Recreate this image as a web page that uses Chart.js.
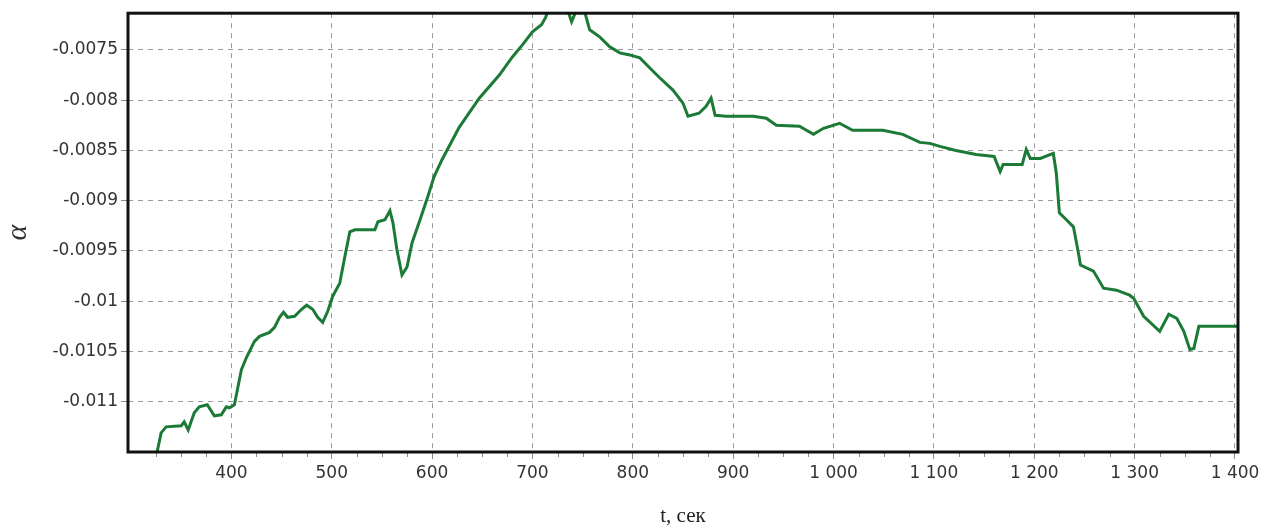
<!DOCTYPE html>
<html>
<head>
<meta charset="utf-8">
<script src="https://cdn.jsdelivr.net/npm/chart.js@4/dist/chart.umd.min.js"></script>
<style>
  html, body { margin: 0; padding: 0; background: #fff; }
  #wrap { width: 1267px; height: 529px; }
</style>
</head>
<body>
<div id="wrap"><canvas id="myChart"></canvas></div>
<script>
// time, s
var times = [324, 326, 330, 335, 350, 353, 357, 363, 368, 376, 383, 390, 395, 398, 403, 406, 410, 415, 423, 428,
  438, 443, 448, 452, 456, 463, 470, 475, 481, 486, 491, 496, 501, 508, 513, 518, 523, 543, 546, 553,
  558, 561, 565, 570, 575, 580, 589, 596, 602, 610, 627, 647, 667, 680, 690, 700, 709, 713, 716, 725,
  735, 739, 744, 752, 757, 767, 777, 787, 797, 807, 817, 827, 840, 850, 855, 866, 873, 878, 882, 893,
  920, 933, 943, 966, 980, 990, 1006, 1019, 1033, 1049, 1069, 1086, 1096, 1106, 1122, 1142, 1160, 1166, 1169, 1188,
  1192, 1196, 1206, 1219, 1222, 1225, 1232, 1239, 1244, 1246, 1259, 1269, 1282, 1295, 1299, 1309, 1325, 1334, 1342, 1349,
  1355, 1359, 1364, 1403];

// alpha values
var alpha = [-0.01160, -0.01150, -0.01131, -0.01125, -0.01124, -0.01120, -0.01128, -0.01111, -0.01105, -0.01103,
  -0.01114, -0.01113, -0.01105, -0.01106, -0.01103, -0.01088, -0.01068, -0.01056, -0.01040, -0.01035,
  -0.01031, -0.01026, -0.01016, -0.01011, -0.01016, -0.01015, -0.01008, -0.01004, -0.01008, -0.01016,
  -0.01021, -0.01010, -0.00995, -0.00982, -0.00956, -0.00931, -0.00929, -0.00929, -0.00921, -0.00919,
  -0.00910, -0.00922, -0.00949, -0.00974, -0.00966, -0.00942, -0.00916, -0.00895, -0.00876, -0.00859,
  -0.00827, -0.00798, -0.00775, -0.00757, -0.00745, -0.00732, -0.00725, -0.00718, -0.00710, -0.00708,
  -0.00710, -0.00722, -0.00710, -0.00712, -0.00730, -0.00737, -0.00747, -0.00753, -0.00755, -0.00758,
  -0.00768, -0.00778, -0.00790, -0.00803, -0.00816, -0.00813, -0.00806, -0.00798, -0.00815, -0.00816,
  -0.00816, -0.00818, -0.00825, -0.00826, -0.00834, -0.00828, -0.00823, -0.00830, -0.00830, -0.00830,
  -0.00834, -0.00842, -0.00843, -0.00846, -0.00850, -0.00854, -0.00856, -0.00871, -0.00864, -0.00864,
  -0.00849, -0.00858, -0.00858, -0.00853, -0.00873, -0.00912, -0.00919, -0.00926, -0.00952, -0.00964,
  -0.00970, -0.00987, -0.00989, -0.00994, -0.00997, -0.01015, -0.01030, -0.01013, -0.01017, -0.01030,
  -0.01048, -0.01047, -0.01025, -0.01025];

// tick labels
var xTicks = [400, 500, 600, 700, 800, 900, 1000, 1100, 1200, 1300, 1400];
var xTickLabels = ['400', '500', '600', '700', '800', '900', '1 000', '1 100', '1 200', '1 300', '1 400'];
var yTicks = [-0.0075, -0.008, -0.0085, -0.009, -0.0095, -0.01, -0.0105, -0.011];
var yTickLabels = ['-0.0075', '-0.008', '-0.0085', '-0.009', '-0.0095', '-0.01', '-0.0105', '-0.011'];

var points = times.map(function (t, i) { return { x: t, y: alpha[i] }; });

var labelFont = { family: "'DejaVu Sans', Verdana, sans-serif", size: 17 };

// box around plot area + small ticks on x axis
var framePlugin = {
  id: 'frame',
  afterDraw: function (chart) {
    var ctx = chart.ctx, a = chart.chartArea, x = chart.scales.x;
    ctx.save();
    ctx.strokeStyle = '#8a8a8a';
    ctx.lineWidth = 1;
    for (var v = 325; v < 1400; v += 25) {
      if (v % 100 === 0) continue;
      var px = Math.round(x.getPixelForValue(v)) + 0.5;
      ctx.beginPath();
      ctx.moveTo(px, a.bottom);
      ctx.lineTo(px, a.bottom + 5);
      ctx.stroke();
    }
    ctx.strokeStyle = '#111';
    ctx.lineWidth = 3;
    ctx.strokeRect(a.left, a.top, a.right - a.left, a.bottom - a.top);
    ctx.restore();
  }
};

var ctx = document.getElementById('myChart').getContext('2d');
var myChart = new Chart(ctx, {
  type: 'line',
  data: {
    datasets: [{
      data: points,
      borderColor: '#1b7a35',
      borderWidth: 3,
      pointRadius: 0,
      tension: 0,
      clip: 0
    }]
  },
  options: {
    responsive: true,
    maintainAspectRatio: false,
    animation: false,
    layout: { padding: { top: 13, right: 29, left: 0, bottom: 0 } },
    plugins: { legend: { display: false }, tooltip: { enabled: false } },
    scales: {
      x: {
        type: 'linear',
        min: 297,
        max: 1403,
        afterBuildTicks: function (scale) { scale.ticks = xTicks.map(function (v) { return { value: v }; }); },
        afterFit: function (scale) { scale.height = 77; },
        ticks: {
          color: '#333',
          font: labelFont,
          padding: 4,
          maxRotation: 0,
          autoSkip: false,
          callback: function (v) { return xTickLabels[xTicks.indexOf(v)]; }
        },
        grid: { color: '#9a9a9a', tickColor: '#8a8a8a', tickLength: 7, lineWidth: 1 },
        border: { display: false, dash: [5, 5] },
        title: {
          display: true,
          text: 't, сек',
          color: '#222',
          font: { family: "'Liberation Serif', 'Times New Roman', serif", size: 21 },
          padding: { top: 0, bottom: 0 }
        }
      },
      y: {
        type: 'linear',
        min: -0.0115,
        max: -0.007135,
        afterBuildTicks: function (scale) { scale.ticks = yTicks.map(function (v) { return { value: v }; }); },
        afterFit: function (scale) { scale.width = 128; },
        ticks: {
          color: '#333',
          font: labelFont,
          padding: 3,
          autoSkip: false,
          callback: function (v) { return yTickLabels[yTicks.indexOf(v)]; }
        },
        grid: { color: '#9a9a9a', tickColor: '#8a8a8a', tickLength: 7, lineWidth: 1 },
        border: { display: false, dash: [5, 5] },
        title: {
          display: true,
          text: 'α',
          color: '#333',
          font: { family: "'Liberation Serif', 'Times New Roman', serif", size: 30, style: 'italic' },
          padding: { top: 0, bottom: 0 }
        }
      }
    }
  },
  plugins: [framePlugin]
});
</script>
</body>
</html>
